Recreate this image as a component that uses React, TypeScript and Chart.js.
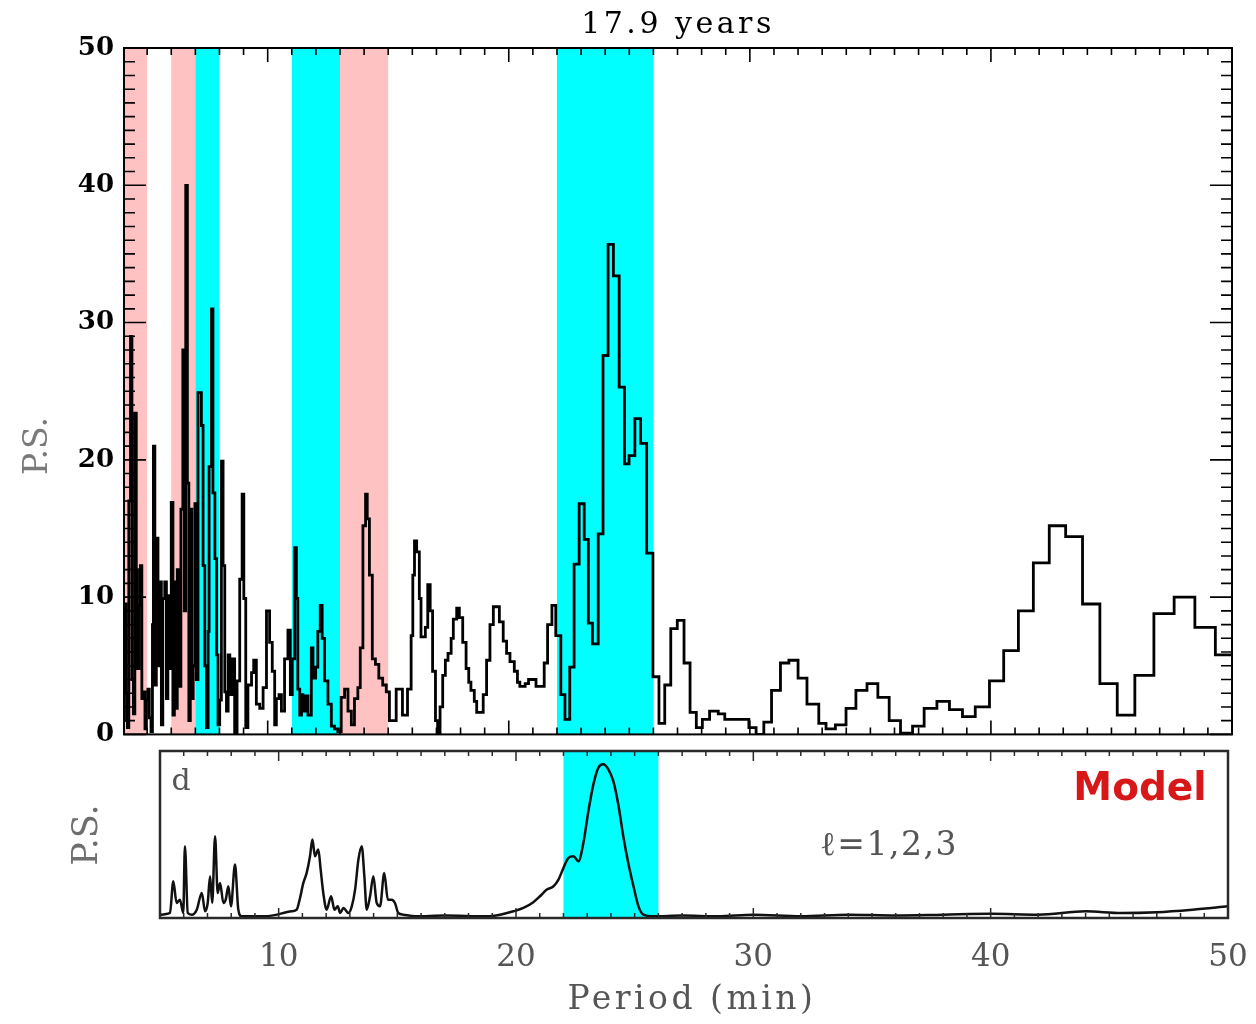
import React, { useEffect, useRef } from 'react';
import { Chart, registerables } from 'chart.js';

Chart.register(...registerables);

// ---------------- data ----------------
const titleText = '17.9 years';
const yTitleText = 'P.S.';
const xTitleText = 'Period (min)';
const panelLetter = 'd';
const modelLabel = 'Model';
const degreeLabel = 'ℓ=1,2,3';

// observed power spectrum (step histogram: value holds from this period to the next)
const topPeriod = [
  4.02, 4.06, 4.12, 4.18, 4.24, 4.31, 4.37, 4.43, 4.49, 4.55, 4.6, 4.66, 4.72, 4.78, 4.84, 4.91, 4.97,
  5.03, 5.09, 5.16, 5.22, 5.26, 5.32, 5.38, 5.45, 5.53, 5.59, 5.65, 5.73, 5.8, 5.86, 5.94,
  6.0, 6.07, 6.13, 6.19, 6.25, 6.31, 6.4, 6.48, 6.54, 6.6, 6.67, 6.73, 6.79, 6.85, 6.91, 6.98,
  7.04, 7.11, 7.25, 7.32, 7.39, 7.46, 7.53, 7.57, 7.67, 7.73, 7.81, 7.88, 7.94,
  8.01, 8.08, 8.15, 8.22, 8.29, 8.36, 8.43, 8.52, 8.63, 8.73, 8.84, 8.94,
  9.01, 9.09, 9.18, 9.33, 9.42, 9.53, 9.67, 9.81, 9.95,
  10.08, 10.19, 10.29, 10.36, 10.47, 10.57, 10.7, 10.84, 10.94,
  11.02, 11.12, 11.19, 11.25, 11.33, 11.4, 11.46, 11.57, 11.67, 11.81, 11.88, 11.99,
  12.08, 12.18, 12.26, 12.36, 12.5, 12.64, 12.77, 12.91,
  13.05, 13.19, 13.33, 13.47, 13.6, 13.74, 13.84, 13.95,
  14.06, 14.13, 14.22, 14.34, 14.47, 14.61, 14.77, 14.92,
  15.05, 15.19, 15.33, 15.47, 15.59, 15.8, 15.95,
  16.02, 16.09, 16.18, 16.29, 16.36, 16.54, 16.64, 16.74, 16.84, 16.96,
  17.05, 17.15, 17.26, 17.37, 17.48, 17.61, 17.7, 17.84, 17.95,
  18.09, 18.23, 18.34, 18.43, 18.57, 18.67, 18.94,
  19.08, 19.22, 19.36, 19.61, 19.77, 19.91,
  20.05, 20.23, 20.36, 20.46, 20.68, 20.82,
  21.13, 21.47, 21.61, 21.79, 21.95,
  22.16, 22.33, 22.53, 22.71, 22.92, 23.13, 23.3, 23.47, 23.71, 23.91,
  24.12, 24.34, 24.58, 24.8, 24.99, 25.23, 25.47, 25.72, 25.98,
  26.23, 26.47, 26.72, 26.99, 27.27, 27.52, 27.78, 28.03, 28.33, 28.69, 28.96,
  29.27, 29.61, 29.96, 30.26, 30.58, 30.9, 31.27, 31.62, 32.0, 32.37, 32.86,
  33.16, 33.55, 33.99, 34.4, 34.86, 35.31, 35.78, 36.25, 36.75, 37.23, 37.76,
  38.28, 38.82, 39.35, 39.94, 40.53, 41.14, 41.76, 42.42, 43.1, 43.8,
  44.52, 45.24, 45.97, 46.76, 47.6, 48.46, 49.31, 50.0,
];
const topPower = [
  1, 9.5, 3, 0.5, 17, 29, 4, 1.5, 23.4, 12, 4.8, 9.4, 12.3, 2.6, 3.1, 0.4, 2.5,
  3.3, 1.2, 0.2, 8, 21, 3.6, 14.3, 5, 11.1, 0.7, 9.9, 11.1, 2.6, 10.1, 4.8,
  16.9, 1.4, 11.1, 1.9, 12, 3.5, 16.4, 28, 9, 40, 18.3, 1, 16.4, 2.6, 5, 16.8,
  4, 24.9, 22.5, 12.3, 5, 0.5, 7.5, 19.5, 31, 17.6, 12.8, 5.8, 0.7,
  2.5, 19.9, 12.3, 3.1, 1.7, 5.8, 2.9, 5.5, 0, 3.9, 11.3, 17.5,
  9.9, 0.5, 3.6, 4.5, 5.4, 2.2, 1.9, 3.4, 9,
  6.7, 4.6, 0.7, 2.6, 2.9, 1.7, 5.5, 7.6, 2.9,
  5.5, 13.6, 9.9, 3.3, 1.4, 2.9, 1.7, 2.8, 1.4, 6.3, 4.1, 4.9,
  7.5, 9.4, 7, 3.9, 2.2, 0.6, 0.4, 0.2,
  2.7, 3.3, 1.7, 0.7, 2.6, 3.4, 6.3, 15.2,
  17.5, 15.7, 11.6, 5.5, 5.1, 4.1, 3.6, 3.1,
  1, 1, 3.3, 3.3, 1.4, 3.3, 7.2,
  11.6, 14.1, 13.3, 9.9, 7.1, 7.8, 10.9, 9, 4.6, 1,
  0.1, 2, 4.3, 5.4, 5.9, 7, 8.4, 9.2, 8.5,
  6.7, 4.8, 3.8, 3.2, 2.4, 1.6, 2.9,
  5.4, 8, 9.3, 8.2, 6.8, 5.9,
  5.3, 4.6, 3.8, 3.5, 3.7, 4,
  3.5, 5.2, 8, 9.4, 7.2,
  2.9, 1.1, 4.9, 12.4, 16.8, 14.2, 8.1, 6.6, 14.6, 27.6,
  35.7, 33.4, 25.3, 19.7, 20.3, 23, 21.2, 13.2, 4.2,
  0.8, 3.6, 7.7, 8.3, 5.2, 1.6, 0.5, 1.1, 1.7, 1.5, 1.1,
  1.1, 1.1, 0.5, 0, 0.9, 3.2, 5.2, 5.4, 4.1, 2.2, 0.8,
  0.4, 0.7, 1.9, 3.2, 3.7, 2.7, 1, 0.1, 0.6, 1.9, 2.4,
  1.8, 1.3, 2, 3.9, 6.1, 9, 12.5, 15.2, 14.4, 9.5,
  3.7, 1.4, 4.3, 8.8, 10, 7.8, 5.8, 5.8,
];

// model power spectrum (l = 1,2,3), normalised
const modelPeriod = [
  5.0, 5.42, 5.56, 5.7, 5.84, 5.98, 6.05, 6.17, 6.34, 6.55, 6.76, 6.9, 7.01, 7.11, 7.2, 7.32, 7.43,
  7.53, 7.67, 7.77, 7.88, 7.99, 8.16, 8.3, 8.44, 9.42, 10.55, 10.76, 10.9, 11.04, 11.18, 11.32,
  11.42, 11.53, 11.67, 11.77, 11.88, 12.02, 12.21, 12.35, 12.49, 12.59, 12.73, 12.94, 13.08,
  13.22, 13.36, 13.5, 13.61, 13.71, 13.85, 13.99, 14.13, 14.27, 14.45, 14.6, 14.76, 14.9,
  15.04, 15.25, 15.75, 17.0, 18.77, 19.33, 19.89, 20.31, 20.73, 21.01, 21.3, 21.58, 21.79,
  22.0, 22.21, 22.42, 22.63, 22.84, 23.05, 23.26, 23.47, 23.68, 23.89, 24.1, 24.31, 24.52,
  24.73, 24.95, 25.16, 25.37, 25.79, 27.0, 28.5, 30.0, 32.0, 34.0, 36.0, 38.0, 40.0, 42.0,
  44.0, 45.5, 47.0, 48.5, 50.0,
];
const modelPower = [
  0.02, 0.03, 0.22, 0.09, 0.11, 0.03, 0.43, 0.03, 0.02, 0.05, 0.15, 0.04, 0.09, 0.25, 0.09, 0.49, 0.15,
  0.21, 0.09, 0.11, 0.19, 0.07, 0.32, 0.05, 0.01, 0.01, 0.04, 0.05, 0.12, 0.21, 0.27, 0.37,
  0.47, 0.37, 0.41, 0.29, 0.15, 0.05, 0.13, 0.05, 0.07, 0.03, 0.06, 0.03, 0.07,
  0.17, 0.35, 0.43, 0.25, 0.05, 0.13, 0.25, 0.09, 0.07, 0.27, 0.11, 0.11, 0.09,
  0.03, 0.02, 0.01, 0.015, 0.01, 0.02, 0.04, 0.06, 0.095, 0.13, 0.17, 0.19, 0.23,
  0.3, 0.36, 0.37, 0.34, 0.45, 0.64, 0.8, 0.9, 0.92, 0.89, 0.82, 0.68, 0.49,
  0.33, 0.19, 0.07, 0.02, 0.01, 0.015, 0.01, 0.02, 0.01, 0.02, 0.015, 0.02, 0.025, 0.02,
  0.04, 0.03, 0.035, 0.05, 0.07,
];

const pinkBands = [[4, 5], [6, 7], [13, 15]];
const cyanBands = [[7, 8], [11, 13], [22, 26]];
const modelBands = [[22, 26]];
const topYTicks = [0, 10, 20, 30, 40, 50];
const modelXTicks = [10, 20, 30, 40, 50];

// ---------------- drawing helpers ----------------
type TextItem = {
  text: string; x: number; y: number; font: string; color: string;
  rotate?: number; spacing?: number;
};

function makeDecor(cfg: any) {
  return {
    id: 'decor_' + cfg.name,
    beforeDatasetsDraw(chart: any) {
      const { ctx, chartArea: a } = chart;
      const xs = chart.scales.x;
      ctx.save();
      for (const b of cfg.bands) {
        const x0 = Math.max(a.left, xs.getPixelForValue(b.range[0]));
        const x1 = Math.min(a.right, xs.getPixelForValue(b.range[1]));
        if (x1 <= x0) continue;
        ctx.fillStyle = b.color;
        ctx.fillRect(x0, a.top, x1 - x0, a.bottom - a.top);
      }
      ctx.restore();
    },
    afterDatasetsDraw(chart: any) {
      const { ctx, chartArea: a } = chart;
      const xs = chart.scales.x;
      const ys = chart.scales.y;
      ctx.save();
      ctx.strokeStyle = cfg.frameColor;
      ctx.lineWidth = cfg.tickWidth;
      ctx.beginPath();
      for (let v = Math.ceil(xs.min); v <= xs.max + 1e-9; v += 1) {
        const px = xs.getPixelForValue(v);
        const len = v % 10 === 0 ? cfg.xMajor : cfg.xMinor;
        ctx.moveTo(px, a.bottom); ctx.lineTo(px, a.bottom - len);
        ctx.moveTo(px, a.top); ctx.lineTo(px, a.top + len);
      }
      if (cfg.yTicks) {
        for (let v = Math.ceil(ys.min); v <= ys.max + 1e-9; v += 1) {
          const py = ys.getPixelForValue(v);
          const len = v % 10 === 0 ? cfg.yMajor : cfg.yMinor;
          ctx.moveTo(a.left, py); ctx.lineTo(a.left + len, py);
          ctx.moveTo(a.right, py); ctx.lineTo(a.right - len, py);
        }
      }
      ctx.stroke();
      ctx.lineWidth = cfg.frameWidth;
      ctx.strokeRect(a.left, a.top, a.right - a.left, a.bottom - a.top);
      ctx.restore();
    },
    afterDraw(chart: any) {
      const ctx = chart.ctx;
      for (const t of cfg.texts as TextItem[]) {
        ctx.save();
        ctx.translate(t.x, t.y);
        if (t.rotate) ctx.rotate(t.rotate);
        ctx.font = t.font;
        ctx.fillStyle = t.color;
        ctx.textAlign = 'center';
        ctx.textBaseline = 'middle';
        (ctx as any).letterSpacing = (t.spacing || 0) + 'px';
        ctx.fillText(t.text, 0, 0);
        ctx.restore();
      }
    },
  };
}

export default function App() {
  const topRef = useRef<HTMLCanvasElement>(null);
  const botRef = useRef<HTMLCanvasElement>(null);

  useEffect(() => {
    const bands = [
      ...pinkBands.map((r) => ({ range: r, color: '#ffc2c2' })),
      ...cyanBands.map((r) => ({ range: r, color: '#00ffff' })),
    ];
    const topDecor = makeDecor({
      name: 'top', bands, frameColor: '#000', frameWidth: 2, tickWidth: 1.6,
      xMajor: 14, xMinor: 7, yTicks: true, yMajor: 22, yMinor: 11,
      texts: [
        { text: titleText, x: 678, y: 25, font: '30px "DejaVu Serif"', color: '#000', spacing: 3.5 },
        { text: yTitleText, x: 38, y: 446, font: '33px "DejaVu Serif"', color: '#7a7a7a', rotate: -Math.PI / 2 },
      ],
    });
    const c1 = new Chart(topRef.current as HTMLCanvasElement, {
      type: 'line',
      data: {
        datasets: [{
          data: topPeriod.map((p, i) => ({ x: p, y: topPower[i] })),
          borderColor: '#000', borderWidth: 2.8, pointRadius: 0, stepped: 'before', fill: false,
        }],
      },
      options: {
        animation: false, responsive: false, events: [],
        layout: { padding: { top: 48, right: 24, bottom: 20, left: 0 } },
        plugins: { legend: { display: false }, tooltip: { enabled: false }, title: { display: false } },
        scales: {
          x: { type: 'linear', min: 4.04, max: 50, display: false },
          y: {
            type: 'linear', min: 0, max: 50, position: 'left',
            afterFit: (s: any) => { s.width = 124; },
            afterBuildTicks: (s: any) => { s.ticks = topYTicks.map((v) => ({ value: v })); },
            grid: { display: false, drawTicks: false }, border: { display: false },
            ticks: { padding: 10, color: '#000', font: { family: 'DejaVu Serif', size: 26, weight: 'bold' } },
          },
        },
      } as any,
      plugins: [topDecor],
    } as any);

    const botDecor = makeDecor({
      name: 'bot', bands: modelBands.map((r) => ({ range: r, color: '#00ffff' })),
      frameColor: '#2a2a2a', frameWidth: 2.5, tickWidth: 1.5,
      xMajor: 10, xMinor: 5, yTicks: false, yMajor: 0, yMinor: 0,
      texts: [
        { text: yTitleText, x: 88, y: 95, font: '35px "DejaVu Serif"', color: '#6e6e6e', rotate: -Math.PI / 2 },
        { text: panelLetter, x: 181, y: 42, font: '30px "DejaVu Serif"', color: '#555' },
        { text: modelLabel, x: 1140, y: 50, font: 'bold 39px "DejaVu Sans"', color: '#d81818' },
        { text: degreeLabel, x: 889, y: 106, font: '33px "DejaVu Serif"', color: '#555', spacing: 1.5 },
        { text: xTitleText, x: 692, y: 260, font: '33px "DejaVu Serif"', color: '#555', spacing: 3.5 },
      ],
    });
    const c2 = new Chart(botRef.current as HTMLCanvasElement, {
      type: 'line',
      data: {
        datasets: [{
          data: modelPeriod.map((p, i) => ({ x: p, y: modelPower[i] })),
          borderColor: '#111', borderWidth: 2.5, pointRadius: 0, fill: false,
          cubicInterpolationMode: 'monotone',
        }],
      },
      options: {
        animation: false, responsive: false, events: [],
        layout: { padding: { top: 11, right: 28, bottom: 0, left: 160 } },
        plugins: { legend: { display: false }, tooltip: { enabled: false }, title: { display: false } },
        scales: {
          x: {
            type: 'linear', min: 5, max: 50, position: 'bottom',
            afterFit: (s: any) => { s.height = 106; s.paddingLeft = 0; s.paddingRight = 0; },
            afterBuildTicks: (s: any) => { s.ticks = modelXTicks.map((v) => ({ value: v })); },
            grid: { display: false, drawTicks: false }, border: { display: false },
            ticks: { padding: 21, color: '#555', maxRotation: 0, font: { family: 'DejaVu Serif', size: 31 } },
          },
          y: { type: 'linear', min: 0, max: 1, display: false },
        },
      } as any,
      plugins: [botDecor],
    } as any);

    return () => { c1.destroy(); c2.destroy(); };
  }, []);

  return (
    <div style={{ position: 'fixed', left: 0, top: 0, width: 1256, height: 1024, background: '#fff', overflow: 'hidden' }}>
      <canvas ref={topRef} width={1256} height={760} style={{ position: 'absolute', left: 0, top: 0, width: 1256, height: 760 }} />
      <canvas ref={botRef} width={1256} height={284} style={{ position: 'absolute', left: 0, top: 740, width: 1256, height: 284 }} />
    </div>
  );
}
